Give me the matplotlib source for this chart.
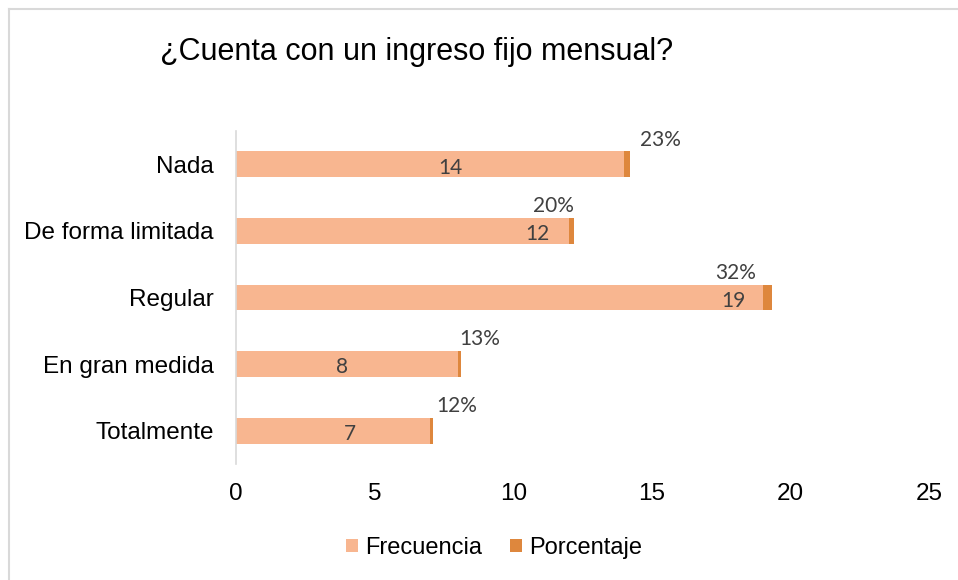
import matplotlib
matplotlib.use('Agg')
import matplotlib.pyplot as plt
from matplotlib.lines import Line2D
from matplotlib.patches import Patch

# data
categories = ['Nada', 'De forma limitada', 'Regular', 'En gran medida', 'Totalmente']
frecuencia = [14, 12, 19, 8, 7]
porcentaje = [0.23, 0.20, 0.32, 0.13, 0.12]
xticks = [0, 5, 10, 15, 20, 25]

# label placement (manually moved labels in the original)
freq_label_x = [7.72, 10.86, 17.93, 3.82, 4.11]
pct_label_x = [15.32, 11.44, 18.04, 8.80, 7.97]
pct_label_dy = 0.37
freq_label_dy = 0.05

c_freq = '#F8B690'
c_pct = '#DE873D'

plt.rcParams['font.family'] = ['Liberation Sans', 'DejaVu Sans']

fig = plt.figure(figsize=(9.58, 5.8), dpi=100)
ax = fig.add_axes([236 / 958, 1 - 464 / 580, (929 - 236) / 958, (464 - 131) / 580])

ypos = list(range(len(categories)))
ax.barh(ypos, frecuencia, height=0.39, color=c_freq, label='Frecuencia')
ax.barh(ypos, porcentaje, left=frecuencia, height=0.39, color=c_pct, label='Porcentaje')

for i in ypos:
    ax.text(freq_label_x[i], i + freq_label_dy, str(frecuencia[i]), ha='center', va='center',
            fontsize=15, color='#404040', family=['Lato', 'DejaVu Sans'])
    ax.text(pct_label_x[i], i - pct_label_dy, '{:.0f}%'.format(porcentaje[i] * 100),
            ha='center', va='center', fontsize=15, color='#404040',
            family=['Lato', 'DejaVu Sans'])

ax.set_xlim(0, 25)
ax.set_ylim(len(categories) - 0.5, -0.5)
ax.set_yticks(ypos)
ax.set_yticklabels(categories, fontsize=17.5)
ax.set_xticks(xticks)
ax.set_xticklabels([str(t) for t in xticks], fontsize=17.5)
ax.tick_params(axis='both', length=0, colors='black')
ax.tick_params(axis='y', pad=16)
ax.tick_params(axis='x', pad=14)
for s in ['top', 'right', 'bottom']:
    ax.spines[s].set_visible(False)
ax.spines['left'].set_color('#D9D9D9')
ax.spines['left'].set_linewidth(1.2)

fig.text(160 / 958, 1 - 52 / 580, '¿Cuenta con un ingreso fijo mensual?',
         fontsize=22, ha='left', va='center')

handles = [Patch(facecolor=c_freq), Patch(facecolor=c_pct)]
fig.legend(handles, ['Frecuencia', 'Porcentaje'], loc='center',
           bbox_to_anchor=(0.516, 1 - 548 / 580), ncol=2, frameon=False,
           fontsize=17, handlelength=0.5, handleheight=0.5,
           handletextpad=0.3, columnspacing=1.2)

# outer chart border (only left and top edges visible)
fig.add_artist(Line2D([9 / 958, 9 / 958], [0, 1 - 9 / 580], color='#D9D9D9', lw=1.5))
fig.add_artist(Line2D([9 / 958, 1], [1 - 9 / 580, 1 - 9 / 580], color='#D9D9D9', lw=1.5))

fig.savefig('out.png', dpi=100)
